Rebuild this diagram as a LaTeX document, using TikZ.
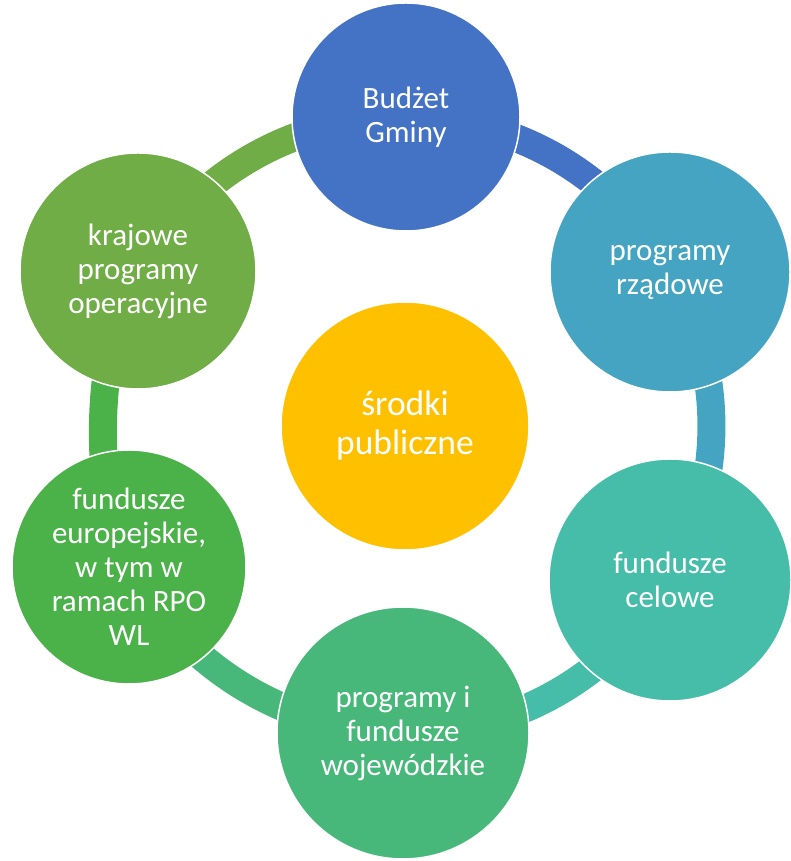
\documentclass[tikz,border=0pt]{standalone}
\usepackage{fontspec}
\setmainfont{Carlito}
\usepackage{tikz}
\usetikzlibrary{backgrounds}
\definecolor{accBlue}{RGB}{68, 114, 196}
\definecolor{accSky}{RGB}{69, 164, 193}
\definecolor{accTeal}{RGB}{70, 189, 168}
\definecolor{accJade}{RGB}{72, 184, 122}
\definecolor{accGreen}{RGB}{75, 177, 73}
\definecolor{accOlive}{RGB}{112, 173, 71}
\definecolor{accGold}{RGB}{255, 192, 0}

\begin{document}
\begin{tikzpicture}[
    x=1pt, y=1pt,
    every node/.style={font=\fontsize{31}{34}\selectfont, text=white},
    disc/.style={
        circle, draw=white, line width=1.5pt,
        inner sep=0pt, align=center
    },
    band/.style={line width=28pt, line cap=butt}
]
\useasboundingbox (0,0) rectangle (790,861);

%% ---- Outer circles ----
\node[disc, fill=accBlue,  minimum size=228pt] (gmina)  at (406,744) {Budżet\\Gminy};
\node[disc, fill=accSky,   minimum size=240pt] (rzad)   at (670,589) {programy\\rządowe};
\node[disc, fill=accTeal,  minimum size=242pt] (celowe) at (670,281) {fundusze\\celowe};
\node[disc, fill=accJade,  minimum size=252pt] (woj)    at (403,128) {programy i\\fundusze\\wojewódzkie};
\node[disc, fill=accGreen, minimum size=234pt] (euro)   at (129,294) {fundusze\\europejskie,\\w tym w\\ramach RPO\\WL};
\node[disc, fill=accOlive, minimum size=236pt] (kraj)   at (138,590) {krajowe\\programy\\operacyjne};

%% ---- Centre ----
\node[disc, fill=accGold, minimum size=248pt, font=\fontsize{35.5}{39}\selectfont] (srodki) at (405,435) {środki\\publiczne};

%% ---- Ring ----
\begin{scope}[on background layer]
\draw[band, draw=accBlue]  (gmina.center)  to[bend left=30, looseness=0.92] (rzad.center);
\draw[band, draw=accSky]   (rzad.center)   to[bend left=30, looseness=0.92] (celowe.center);
\draw[band, draw=accTeal]  (celowe.center) to[bend left=30, looseness=0.92] (woj.center);
\draw[band, draw=accJade]  (woj.center)    to[bend left=30, looseness=0.92] (euro.center);
\draw[band, draw=accGreen] (euro.center)   to[bend left=30, looseness=0.7]  (kraj.center);
\draw[band, draw=accOlive] (kraj.center)   to[bend left=30, looseness=0.92] (gmina.center);
\end{scope}

\end{tikzpicture}
\end{document}
